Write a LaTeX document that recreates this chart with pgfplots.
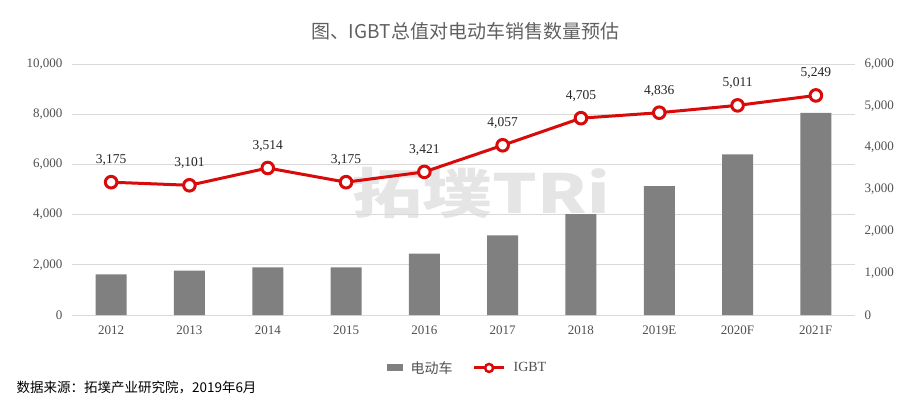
\documentclass[border=0pt]{standalone}
\usepackage{pgfplots}
\pgfplotsset{compat=1.18}
\usepackage{fontspec}
\setmainfont{Liberation Serif}
\newfontfamily\cjk{Noto Sans CJK SC}
\definecolor{barg}{RGB}{128,128,128}
\definecolor{igred}{RGB}{216,10,10}
\definecolor{gridc}{RGB}{217,217,217}
\definecolor{txt}{RGB}{80,80,80}
\pgfplotsset{/pgf/number format/assume math mode=true}
\begin{document}
\begin{tikzpicture}
\path[use as bounding box] (0pt,0pt) rectangle (918pt,408pt);
\fill[white] (0pt,0pt) rectangle (918pt,408pt);
\node[font=\cjk\fontsize{19}{22}\selectfont, text=txt!90] at (465pt,377pt) {图、IGBT总值对电动车销售数量预估};
\node[font=\cjk\bfseries\fontsize{54}{58}\selectfont, text=gray!20, xscale=1.3] at (481pt,215pt) {拓墣TRi};
\node[anchor=west, font=\cjk\fontsize{13.5}{16}\selectfont, text=black] at (13pt,21pt) {数据来源：拓墣产业研究院，2019年6月};
\begin{axis}[
  at={(72pt,93pt)}, anchor=south west, scale only axis,
  width=783pt, height=251pt,
  xmin=-0.5, xmax=9.5, ymin=0, ymax=10000,
  xtick={0,...,9},
  xticklabels={2012,2013,2014,2015,2016,2017,2018,2019E,2020F,2021F},
  ytick={0,2000,4000,6000,8000,10000},
  scaled y ticks=false,
  yticklabel style={/pgf/number format/1000 sep={,}, xshift=-6pt},
  xticklabel style={yshift=-7pt},
  tick label style={font=\fontsize{13}{15}\selectfont, text=txt},
  major tick length=0pt,
  ymajorgrids, grid style={gridc, line width=0.9pt},
  axis lines*=left,
  y axis line style={draw=none},
  x axis line style={gridc, line width=0.9pt},
  legend columns=2,
  legend style={at={(0.505,-0.211)}, anchor=center, draw=none, fill=none,
    /tikz/every odd column/.append style={column sep=6pt},
    /tikz/every even column/.append style={column sep=18pt}},
]
\addplot[ybar, bar width=31pt, fill=barg, draw=none,
  legend image code/.code={\fill[barg] (0pt,-3.5pt) rectangle (16pt,3.5pt);}]
coordinates {(0,1622) (1,1765) (2,1900) (3,1900) (4,2444) (5,3175) (6,4024) (7,5139) (8,6402) (9,8048)};
\addlegendentry{\cjk\fontsize{14}{16}\selectfont\textcolor{txt}{电动车}}
\addlegendimage{legend image code/.code={
  \draw[igred, line width=3pt] (0pt,0pt) -- (30pt,0pt);
  \draw[igred, fill=white, line width=2.5pt] (15pt,0pt) circle (4pt);}}
\addlegendentry{\fontsize{14}{16}\selectfont\textcolor{txt}{IGBT}}
\end{axis}
\begin{axis}[
  at={(72pt,93pt)}, anchor=south west, scale only axis,
  width=783pt, height=251pt,
  xmin=-0.5, xmax=9.5, ymin=0, ymax=6000,
  axis x line=none,
  axis y line*=right,
  y axis line style={draw=none},
  ytick={0,1000,...,6000},
  scaled y ticks=false,
  yticklabel style={/pgf/number format/1000 sep={,}, xshift=6pt},
  tick label style={font=\fontsize{13}{15}\selectfont, text=txt},
  major tick length=0pt,
]
\addplot[igred, line width=3pt, mark=*, mark size=5.8pt,
  mark options={fill=white, draw=igred, line width=3pt},
  nodes near coords={\pgfmathprintnumber[fixed,precision=0,1000 sep={,}]{\pgfplotspointmeta}},
  every node near coord/.append style={font=\fontsize{13.5}{15}\selectfont, text=black!85, anchor=south, inner sep=0pt, yshift=15pt}]
coordinates {(0,3175) (1,3101) (2,3514) (3,3175) (4,3421) (5,4057) (6,4705) (7,4836) (8,5011) (9,5249)};
\end{axis}
\end{tikzpicture}
\end{document}
